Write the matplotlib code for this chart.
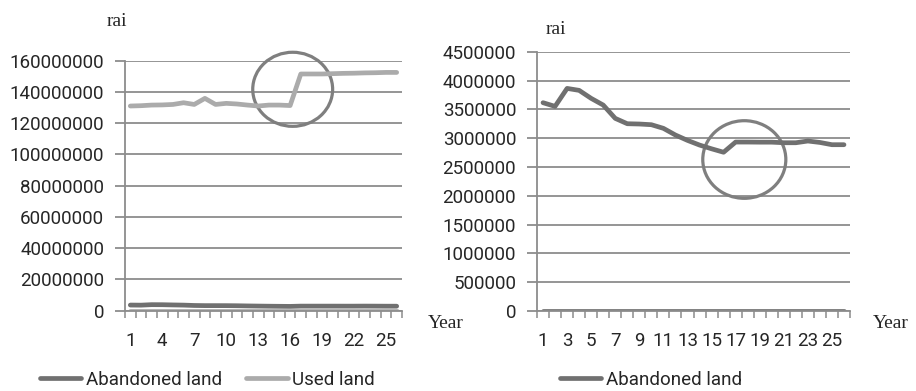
import matplotlib
matplotlib.use("Agg")
import matplotlib.pyplot as plt
from matplotlib.patches import Ellipse
from matplotlib.ticker import FuncFormatter, MultipleLocator
import numpy as np

# ---------------- data ----------------
years = list(range(1, 27))

abandoned = [3615000, 3551000, 3863000, 3829000, 3690000, 3574000, 3343000,
             3250000, 3245000, 3233000, 3170000, 3054000, 2961000, 2880000,
             2815000, 2755000, 2932000, 2932000, 2930000, 2930000, 2920000,
             2920000, 2950000, 2925000, 2886000, 2886000]

used = [131000000, 131200000, 131600000, 131700000, 132000000, 133100000,
        132000000, 135900000, 132000000, 132700000, 132300000, 131600000,
        131000000, 131600000, 131600000, 131300000, 151500000, 151500000,
        151500000, 151700000, 151900000, 152000000, 152200000, 152300000,
        152500000, 152500000]

other_zero = [0] * 26

left_ticks = [1, 4, 7, 10, 13, 16, 19, 22, 25]
right_ticks = [1, 3, 5, 7, 9, 11, 13, 15, 17, 19, 21, 23, 25]

# ---------------- style ----------------
DARK = "#707070"
LIGHT = "#ababab"
GRID = "#8c8c8c"
TXT = "#262626"
SANS = ["Roboto", "DejaVu Sans"]
SERIF = ["Liberation Serif", "DejaVu Serif"]
FS = 13.5

W, H = 916, 391
fig = plt.figure(figsize=(W / 100, H / 100), dpi=100)


def px_axes(x0, x1, ytop, ybot):
    return fig.add_axes([x0 / W, 1 - ybot / H, (x1 - x0) / W, (ybot - ytop) / H])


def style(ax, ymax, ystep, labels):
    ax.set_xlim(0.5, 26.5)
    ax.set_ylim(0, ymax)
    ax.yaxis.set_major_locator(MultipleLocator(ystep))
    ax.yaxis.set_major_formatter(FuncFormatter(lambda v, p: f"{v:.0f}"))
    ax.grid(axis="y", color=GRID, lw=1.3)
    ax.set_axisbelow(True)
    for s in ["top", "right"]:
        ax.spines[s].set_visible(False)
    for s in ["left", "bottom"]:
        ax.spines[s].set_color(GRID)
        ax.spines[s].set_linewidth(1.3)
    ax.set_xticks(labels)
    ax.set_xticks(np.arange(0.5, 27, 1), minor=True)
    ax.tick_params(axis="x", which="major", length=0, pad=15,
                   labelsize=FS, labelcolor=TXT)
    ax.tick_params(axis="x", which="minor", length=5, width=1.1, color=GRID,
                   direction="out")
    ax.tick_params(axis="y", length=7, width=1.3, color=GRID, pad=8,
                   labelsize=FS, labelcolor=TXT)
    for lab in ax.get_xticklabels() + ax.get_yticklabels():
        lab.set_family(SANS)


# ---------------- left chart ----------------
axl = px_axes(125, 402, 60.7, 310.7)
axl.plot(years, other_zero, color=LIGHT, lw=3.4, solid_capstyle="round")
l1, = axl.plot(years, abandoned, color=DARK, lw=3.4, solid_capstyle="round",
               label="Abandoned land")
l2, = axl.plot(years, used, color=LIGHT, lw=3.4, solid_capstyle="round",
               label="Used land")
style(axl, 160000000, 20000000, left_ticks)
axl.add_patch(Ellipse((16.24, 141700000), 7.5, 47400000, fill=False,
                      ec="#7f7f7f", lw=2.3, clip_on=False))

# ---------------- right chart ----------------
axr = px_axes(537, 850, 51.7, 311)
axr.plot(years, other_zero, color=DARK, lw=3.4, solid_capstyle="round")
r1, = axr.plot(years, abandoned, color=DARK, lw=3.4, solid_capstyle="round",
               label="Abandoned land")
style(axr, 4500000, 500000, right_ticks)
axr.add_patch(Ellipse((17.72, 2629000), 6.9, 1347000, fill=False,
                      ec="#7f7f7f", lw=2.3, clip_on=False))

# ---------------- labels ----------------
fig.text(117 / W, 1 - 22 / H, "rai", family=SERIF, fontsize=14,
         ha="center", va="center", color=TXT)
fig.text(556 / W, 1 - 30 / H, "rai", family=SERIF, fontsize=14,
         ha="center", va="center", color=TXT)
fig.text(428 / W, 1 - 323 / H, "Year", family=SERIF, fontsize=14,
         ha="left", va="center", color=TXT)
fig.text(873 / W, 1 - 323 / H, "Year", family=SERIF, fontsize=14,
         ha="left", va="center", color=TXT)

leg_kw = dict(frameon=False, borderpad=0, borderaxespad=0, handlelength=2.2,
              handletextpad=0.25, columnspacing=1.3, loc="center left",
              bbox_transform=fig.transFigure,
              prop={"family": SANS, "size": FS})
leg1 = fig.legend(handles=[l1, l2], ncol=2, bbox_to_anchor=(40 / W, 1 - 380 / H),
                  **leg_kw)
leg2 = fig.legend(handles=[r1], ncol=1, bbox_to_anchor=(560 / W, 1 - 380 / H),
                  **leg_kw)
for leg in (leg1, leg2):
    for t in leg.get_texts():
        t.set_color(TXT)

fig.savefig("out.png", dpi=100)
